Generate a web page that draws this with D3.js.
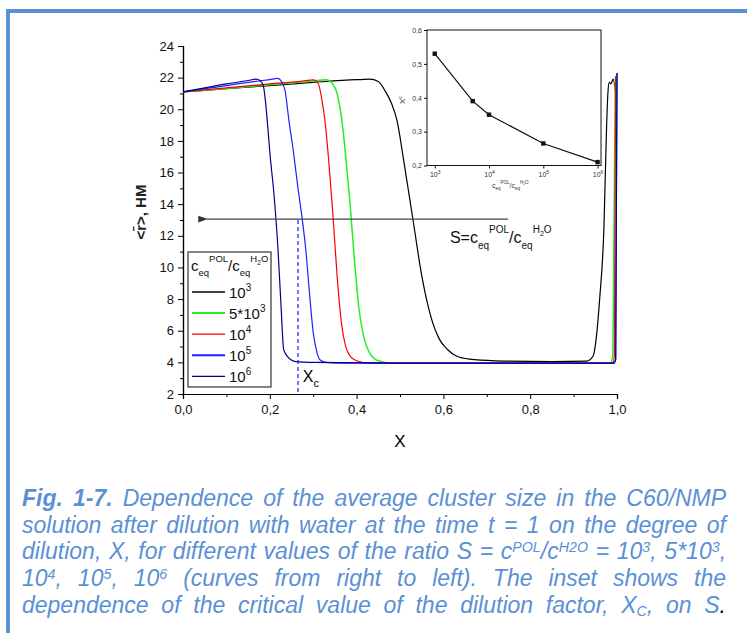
<!DOCTYPE html>
<html>
<head>
<meta charset="utf-8">
<script src="https://cdn.jsdelivr.net/npm/d3@7"></script>
<style>
  body { margin: 0; background: #fff; width: 747px; height: 633px; overflow: hidden; position: relative; }
  #frame { position: absolute; left: 6px; top: 9px; width: 900px; height: 900px; border-left: 4px solid #5b8fd6; border-top: 4px solid #5b8fd6; }
  #chart { position: absolute; left: 0; top: 0; }
  #caption { position: absolute; left: 22px; top: 485px; width: 704px; color: #5b8fd6;
    font-family: "Liberation Sans", Arial, sans-serif; font-style: italic;
    font-size: 23px; line-height: 26.7px; }
  #caption div { text-align: justify; text-align-last: justify; white-space: nowrap; height: 26.7px; }
  #caption sup { font-size: 0.62em; line-height: 0; vertical-align: 0; position: relative; top: -0.5em; }
  #caption sub { font-size: 0.62em; line-height: 0; vertical-align: 0; position: relative; top: 0.2em; }
  text { font-family: "Liberation Sans", Arial, sans-serif; }
</style>
</head>
<body>
<div id="frame"></div>
<div id="chart"></div>
<div id="caption"></div>
<script>
// main curves: [X, <r>]
const curve1e3 = [[0,21.1],[0.1,21.3],[0.2,21.5],[0.3,21.7],[0.4,21.87],[0.43,21.9],[0.45,21.75],[0.465,21.2],[0.48,20.4],[0.493,19.3],[0.51,16.5],[0.53,13.0],[0.55,9.5],[0.57,7.0],[0.59,5.5],[0.61,4.8],[0.63,4.4],[0.66,4.2],[0.72,4.1],[0.85,4.05],[0.93,4.08],[0.945,4.4],[0.952,5.5],[0.96,8],[0.97,12.6],[0.976,18.9],[0.979,21.0],[0.982,21.7],[0.986,21.6],[0.991,21.9],[0.997,21.0]];
const curve5e3 = [[0,21.1],[0.1,21.32],[0.2,21.55],[0.3,21.78],[0.33,21.87],[0.345,21.6],[0.355,21.0],[0.366,19.3],[0.375,17.0],[0.385,14.0],[0.395,10.5],[0.405,7.5],[0.415,5.8],[0.43,4.6],[0.45,4.1],[0.48,3.95],[0.985,3.95],[0.99,4.4],[0.993,12],[0.996,22.0]];
const curve1e4 = [[0,21.1],[0.1,21.35],[0.2,21.6],[0.28,21.8],[0.3,21.86],[0.312,21.6],[0.32,20.6],[0.327,19.3],[0.335,17.0],[0.345,13.5],[0.355,9.5],[0.365,6.5],[0.375,5.0],[0.385,4.4],[0.4,4.1],[0.43,3.95],[0.99,3.95],[0.994,4.4],[0.997,22.1]];
const curve1e5 = [[0,21.1],[0.05,21.3],[0.1,21.5],[0.15,21.7],[0.2,21.88],[0.218,21.95],[0.228,21.7],[0.235,21.2],[0.244,19.3],[0.255,17.2],[0.265,15.0],[0.275,13.0],[0.283,11.1],[0.292,8.2],[0.3,5.9],[0.308,4.7],[0.316,4.15],[0.33,4.0],[0.36,3.95],[0.993,3.95],[0.997,4.2],[1.0,22.3]];
const curve1e6 = [[0,21.1],[0.05,21.35],[0.1,21.6],[0.15,21.82],[0.168,21.9],[0.178,21.8],[0.185,21.5],[0.19,20.5],[0.195,19.0],[0.2,17.3],[0.21,14.5],[0.219,11.1],[0.226,7.5],[0.232,4.8],[0.24,4.4],[0.26,4.05],[0.3,4.0],[0.5,3.95],[0.993,3.95],[0.997,4.2],[1.0,22.3]];
const seriesLabels = ['3', '5*10|3', '4', '5', '6'];
const seriesColors = ['#000000', '#22f022', '#ff0000', '#2020ff', '#000090'];

// inset: critical dilution X_c vs S
const insetS = [1e3, 5e3, 1e4, 1e5, 1e6];
const insetXc = [0.53, 0.39, 0.35, 0.265, 0.21];

const yTicks = d3.range(2, 25, 2);
const xTicks = d3.range(0, 1.01, 0.2);

const width = 747, height = 633;
const svg = d3.select('#chart').append('svg').attr('width', width).attr('height', height);

const x = d3.scaleLinear().domain([0, 1]).range([183, 617]);
const y = d3.scaleLinear().domain([2, 24]).range([394, 46]);
const comma = (f) => (d) => d3.format(f)(d).replace('.', ',');

// axes
svg.append('g').attr('transform', `translate(${x(0)},0)`)
  .call(d3.axisLeft(y).tickValues(yTicks).tickSize(5).tickPadding(4).tickFormat(d3.format('d')));
svg.append('g').attr('transform', `translate(${x(0)},0)`)
  .call(d3.axisLeft(y).tickValues(d3.range(3, 24, 2)).tickSize(3).tickFormat(''));
svg.append('g').attr('transform', `translate(0,${y(2)})`)
  .call(d3.axisBottom(x).tickValues(xTicks).tickSize(5).tickPadding(6).tickFormat(comma('.1f')));
svg.append('g').attr('transform', `translate(0,${y(2)})`)
  .call(d3.axisBottom(x).tickValues(d3.range(0.1, 1, 0.2)).tickSize(3).tickFormat(''));
svg.selectAll('.domain').attr('stroke', '#000').attr('stroke-width', 1.2);
svg.selectAll('.tick line').attr('stroke', '#000');
svg.selectAll('.tick text').attr('font-size', 13).attr('fill', '#111').attr('font-family', 'Liberation Sans, Arial, sans-serif');

svg.append('text').attr('x', x(0.5)).attr('y', 447).attr('text-anchor', 'middle')
  .attr('font-size', 17).text('X');
svg.append('text').attr('transform', `translate(146,${y(13.5)}) rotate(-90)`).attr('text-anchor', 'middle')
  .attr('font-size', 15).attr('font-weight', 'bold').attr('fill', '#222').text('<r̄>, НМ');

// curves
const line = d3.line().x((d) => x(d[0])).y((d) => y(d[1])).curve(d3.curveMonotoneX);
const curves = [curve1e3, curve5e3, curve1e4, curve1e5, curve1e6];
svg.append('g').selectAll('path').data(curves).join('path')
  .attr('d', line).attr('fill', 'none')
  .attr('stroke', (d, i) => seriesColors[i])
  .attr('stroke-width', (d, i) => (i === 1 ? 1.5 : 1.2));

// Xc marker
svg.append('line').attr('x1', x(0.265)).attr('x2', x(0.265)).attr('y1', y(13)).attr('y2', y(2))
  .attr('stroke', '#1a1aff').attr('stroke-width', 1.2).attr('stroke-dasharray', '4,3');
const xc = svg.append('text').attr('x', x(0.276)).attr('y', y(2.76)).attr('font-size', 16);
xc.append('tspan').text('X');
xc.append('tspan').attr('font-size', 11).attr('dy', 5).text('c');

// arrow
svg.append('defs').append('marker').attr('id', 'arr').attr('viewBox', '0 0 10 10')
  .attr('refX', 1).attr('refY', 5).attr('markerWidth', 8).attr('markerHeight', 8).attr('orient', 'auto-start-reverse')
  .append('path').attr('d', 'M0,5 L10,1.5 L10,8.5 Z').attr('fill', '#333');
svg.append('line').attr('x1', x(0.749)).attr('x2', x(0.055)).attr('y1', y(13.06)).attr('y2', y(13.06))
  .attr('stroke', '#444').attr('stroke-width', 1.2).attr('marker-end', 'url(#arr)');

// helper for c_eq^POL / c_eq^H2O
function ratioLabel(t, big, small) {
  t.append('tspan').attr('font-size', big).text('c');
  t.append('tspan').attr('font-size', small).attr('dy', big * 0.35).text('eq');
  t.append('tspan').attr('font-size', small).attr('dy', -big * 0.95).text('POL');
  t.append('tspan').attr('font-size', big).attr('dy', big * 0.6).text('/c');
  t.append('tspan').attr('font-size', small).attr('dy', big * 0.35).text('eq');
  t.append('tspan').attr('font-size', small).attr('dy', -big * 0.95).text('H');
  t.append('tspan').attr('font-size', small * 0.7).attr('dy', small * 0.3).text('2');
  t.append('tspan').attr('font-size', small).attr('dy', -small * 0.3).text('O');
}
const sLab = svg.append('text').attr('x', x(0.615)).attr('y', y(11.55)).attr('fill', '#111');
sLab.append('tspan').attr('font-size', 16).text('S=');
ratioLabel(sLab, 16, 10);

// legend
const lg = svg.append('g');
lg.append('rect').attr('x', 188).attr('y', 252).attr('width', 83).attr('height', 135)
  .attr('fill', '#fff').attr('stroke', '#333').attr('stroke-width', 1.2);
const lt = lg.append('text').attr('x', 191).attr('y', 271).attr('fill', '#111');
ratioLabel(lt, 15, 9.5);
seriesLabels.forEach((lab, i) => {
  const yy = 292 + i * 21.1;
  lg.append('line').attr('x1', 192).attr('x2', 225).attr('y1', yy).attr('y2', yy)
    .attr('stroke', seriesColors[i]).attr('stroke-width', i === 1 || i === 3 ? 2 : 1.3);
  const t = lg.append('text').attr('x', 229).attr('y', yy + 6).attr('font-size', 15).attr('fill', '#111');
  const parts = lab.split('|');
  if (parts.length === 2) {
    t.append('tspan').text(parts[0]);
    t.append('tspan').attr('font-size', 10).attr('dy', -7).text(parts[1]);
  } else {
    t.append('tspan').text('10');
    t.append('tspan').attr('font-size', 10).attr('dy', -7).text(parts[0]);
  }
});

// inset
const xi = d3.scaleLog().domain([10 ** 2.857, 10 ** 6.063]).range([427, 601]);
const yi = d3.scaleLinear().domain([0.2, 0.6]).range([165.5, 30]);
const inset = svg.append('g');
inset.append('rect').attr('x', 427).attr('y', 30).attr('width', 174).attr('height', 135.5)
  .attr('fill', '#fff').attr('stroke', '#111').attr('stroke-width', 1);
const yiAxis = inset.append('g').attr('transform', 'translate(427,0)')
  .call(d3.axisLeft(yi).tickValues([0.2, 0.3, 0.4, 0.5, 0.6]).tickSize(3).tickPadding(2).tickFormat(comma('.1f')));
const xiAxis = inset.append('g').attr('transform', 'translate(0,165.5)')
  .call(d3.axisBottom(xi).tickValues([1e3, 1e4, 1e5, 1e6]).tickSize(3).tickPadding(2).tickFormat(''));
inset.selectAll('.domain').remove();
inset.selectAll('.tick line').attr('stroke', '#111');
yiAxis.selectAll('.tick text').attr('font-size', 7).attr('fill', '#333');
xiAxis.selectAll('.tick').each(function (d) {
  const t = d3.select(this).append('text').attr('y', 11).attr('text-anchor', 'middle')
    .attr('font-size', 7).attr('fill', '#333');
  t.append('tspan').text('10');
  t.append('tspan').attr('font-size', 5).attr('dy', -3).text(Math.round(Math.log10(d)));
});
const ptsIn = insetS.map((s, i) => [s, insetXc[i]]);
inset.append('path').datum(ptsIn)
  .attr('d', d3.line().x((d) => xi(d[0])).y((d) => yi(d[1])))
  .attr('fill', 'none').attr('stroke', '#111').attr('stroke-width', 1.2);
inset.selectAll('rect.pt').data(ptsIn).join('rect').attr('class', 'pt')
  .attr('x', (d) => xi(d[0]) - 2.2).attr('y', (d) => yi(d[1]) - 2.2)
  .attr('width', 4.4).attr('height', 4.4).attr('fill', '#111');
const xcl = inset.append('text').attr('transform', 'translate(405,100) rotate(-90)').attr('text-anchor', 'middle')
  .attr('font-size', 8).attr('fill', '#333');
xcl.append('tspan').text('X');
xcl.append('tspan').attr('font-size', 5.5).attr('dy', -3).text('c');
const il = inset.append('text').attr('x', 492).attr('y', 188).attr('fill', '#333');
ratioLabel(il, 7, 4.5);

// caption
const captionLines = [
  '<b>Fig. 1-7.</b> Dependence of the average cluster size in the C60/NMP',
  'solution after dilution with water at the time t = 1 on the degree of',
  'dilution, X, for different values of the ratio S = c<sup>POL</sup>/c<sup>H2O</sup> = 10<sup>3</sup>, 5*10<sup>3</sup>,',
  '10<sup>4</sup>, 10<sup>5</sup>, 10<sup>6</sup> (curves from right to left). The inset shows the',
  'dependence of the critical value of the dilution factor, X<sub>C</sub>, on S<span style="color:#000">.</span>'
];
d3.select('#caption').selectAll('div').data(captionLines).join('div').html((d) => d);
</script>
</body>
</html>
